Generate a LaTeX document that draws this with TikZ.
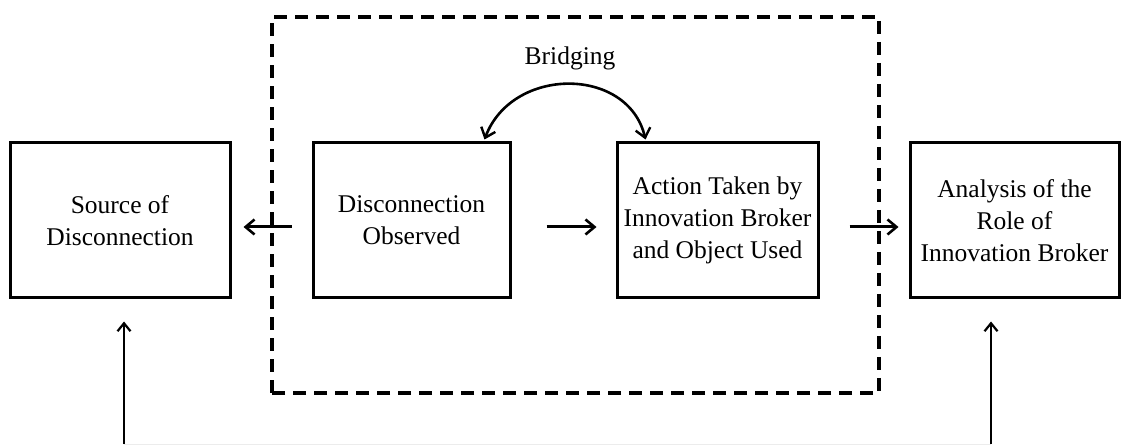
\documentclass[tikz,border=0pt]{standalone}
\usepackage{fontspec}
\setmainfont{Liberation Serif}[Ligatures=TeX]
\newfontfamily\labelfont{Liberation Serif}
\usetikzlibrary{arrows.meta,calc}
\begin{document}
\begin{tikzpicture}[x=1pt,y=1pt,
  txt/.style={font=\labelfont\fontsize{25.5}{32}\selectfont},
  box/.style={txt,draw,line width=3pt,minimum height=155pt,align=center,inner sep=0pt},
  arr/.style={line width=3pt,-{Straight Barb[length=9pt,width=15pt,line width=2.6pt]}},
  uparr/.style={line width=2.4pt,-{Straight Barb[length=8pt,width=13pt,line width=2.2pt]}},
  frame/.style={line width=3.2pt,dash pattern=on 13pt off 8pt}]
\useasboundingbox (0,0) rectangle (1123,444);

% main blocks
\node[box,minimum width=220pt] (src) at (120,223.5) {Source of\\Disconnection};
\node[box,minimum width=197pt] (obs) at (411.5,223.5) {Disconnection\\Observed};
\node[box,minimum width=201pt] (act) at (717.5,223.5) {Action Taken by\\Innovation Broker\\and Object Used};
\node[box,minimum width=209pt] (ana) at (1014.5,223.5) {Analysis of the\\Role of\\Innovation Broker};

% dashed frame around the bridging step
\draw[frame] (272,51) rectangle (879,427);

% label of the bridging step
\node[txt] (brg) at (570,386) {Bridging};

% horizontal flow arrows
\draw[arr] ($(obs.west)+(-20,-6.5)$) -- ($(src.east)+(12,-6.5)$);
\draw[arr] ($(obs.east)+(35,-6.5)$) -- ($(act.west)+(-19,-6.5)$);
\draw[arr] ($(act.east)+(30,-6.5)$) -- ($(ana.west)+(-10,-6.5)$);

% bridging double arrow
\draw[line width=2.6pt,{Straight Barb[length=9pt,width=15pt,line width=2.4pt]}-{Straight Barb[length=9pt,width=15pt,line width=2.4pt]}]
  ($(obs.north east)+(-27,2)$) .. controls (512,378) and (628,378) .. ($(act.north west)+(30,2)$);

% feedback arrows rising from the bottom, joined by a faint base line
\coordinate (bl) at (124,0);
\coordinate (br) at (991,0);
\draw[gray!15,line width=0.8pt] (bl) -- (br);
\draw[uparr] (bl) -- ($(src.south)+(4,-22)$);
\draw[uparr] (br) -- ($(ana.south)+(-23.5,-22)$);
\end{tikzpicture}
\end{document}
